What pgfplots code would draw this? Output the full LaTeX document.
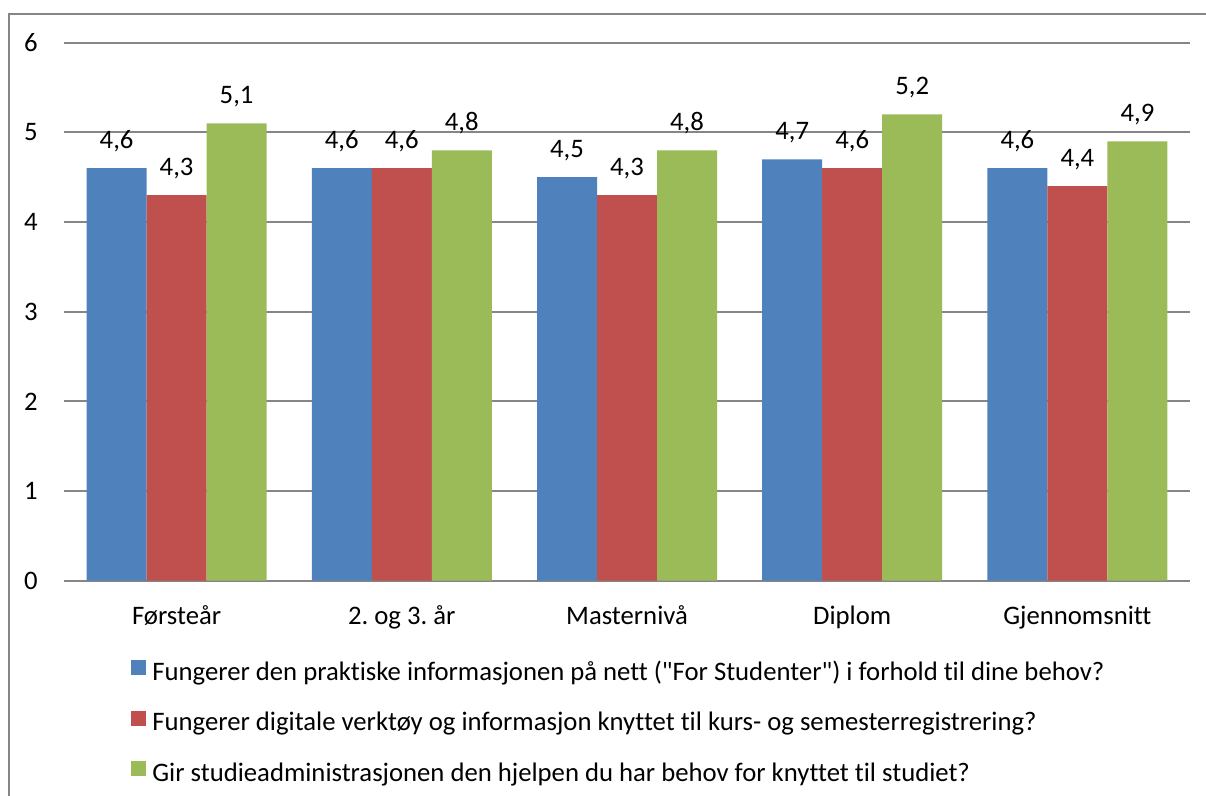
\documentclass[border=0pt]{standalone}
\usepackage{pgfplots}
\pgfplotsset{compat=1.18}
\usepackage{fontspec}
\setmainfont{Carlito}[Ligatures={NoCommon}]
\definecolor{cblue}{HTML}{4F81BD}
\definecolor{cred}{HTML}{C0504D}
\definecolor{cgreen}{HTML}{9BBB59}
\definecolor{cgrid}{HTML}{868686}
\newcommand{\fs}{\fontsize{13.35pt}{15pt}\selectfont}
\begin{document}
\frenchspacing
\fs
\begin{tikzpicture}
\useasboundingbox (0,0) rectangle (603pt,398pt);
\draw[cgrid, line width=0.9pt] (4.5pt,391pt) rectangle (640pt,-40pt);
\begin{axis}[
  at={(32pt,107.65pt)}, anchor=south west,
  scale only axis, width=563pt, height=269pt,
  ybar=0pt, bar width=30pt,
  xmin=-0.5, xmax=4.5, ymin=0, ymax=6,
  xtick=data,
  xticklabels={Førsteår, 2. og 3. år, Masternivå, Diplom, Gjennomsnitt},
  ytick={0,1,2,3,4,5,6},
  major tick length=0pt,
  axis x line*=bottom, axis y line*=left,
  x axis line style={cgrid, line width=0.9pt, -},
  y axis line style={draw=none},
  ymajorgrids, grid style={cgrid, line width=0.9pt},
  xticklabel style={anchor=base, yshift=-21.7pt, inner sep=0pt, font=\fs},
  yticklabel style={anchor=east, inner sep=0pt, xshift=-13pt, font=\fs},
  /pgf/number format/assume math mode=true,
  /pgf/number format/use comma,
  /pgf/number format/fixed,
  /pgf/number format/fixed zerofill,
  /pgf/number format/precision=1,
  yticklabel={\pgfmathprintnumber[fixed zerofill=false, precision=0]{\tick}},
  nodes near coords,
  every node near coord/.append style={anchor=base, yshift=10pt, inner sep=0pt, text=black, font=\fs},
  legend style={at={(axis description cs:0.0595,-0.1474)}, anchor=north west, draw=none, fill=none,
    row sep=12.2pt, inner sep=0pt, font=\fs,
    nodes={inner sep=0pt, text height=9pt, text depth=3pt}},
  legend cell align=left,
  legend image code/.code={\fill[#1] (0pt,-0.5pt) rectangle (7.5pt,7pt);},
  every axis legend/.append style={column sep=3pt},
]
\addplot[fill=cblue, draw=none] coordinates {(0,4.6) (1,4.6) (2,4.5) (3,4.7) (4,4.6)};
\addplot[fill=cred, draw=none] coordinates {(0,4.3) (1,4.6) (2,4.3) (3,4.6) (4,4.4)};
\addplot[fill=cgreen, draw=none] coordinates {(0,5.1) (1,4.8) (2,4.8) (3,5.2) (4,4.9)};
\legend{Fungerer den praktiske informasjonen på nett (\textquotedbl For Studenter\textquotedbl) i forhold til dine behov?,
Fungerer digitale verktøy og informasjon knyttet til kurs- og semesterregistrering?,
Gir studieadministrasjonen den hjelpen du har behov for knyttet til studiet?}
\end{axis}
\end{tikzpicture}
\end{document}
